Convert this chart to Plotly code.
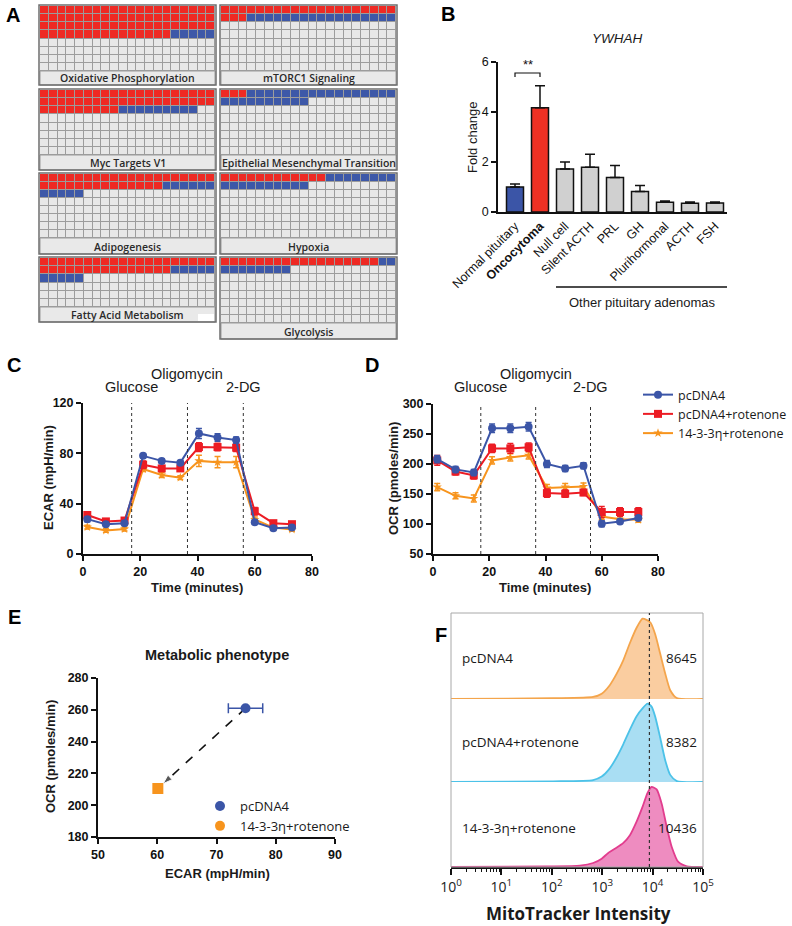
import plotly.graph_objects as go

W, H = 792, 926
FONT = "Liberation Sans, Arial, sans-serif"

# ---- A: hallmark gene-set waffles (cells = genes, red up / blue down) ----
GENE_SETS = ["Oxidative Phosphorylation", "mTORC1 Signaling", "Myc Targets V1",
             "Epithelial Mesenchymal Transition", "Adipogenesis", "Hypoxia",
             "Fatty Acid Metabolism", "Glycolysis"]
UP_COUNTS = [75, 23, 49, 3, 34, 12, 35, 18]
DOWN_COUNTS = [5, 17, 9, 27, 11, 18, 10, 10]
GRID_ROWS = [8, 8, 8, 8, 8, 8, 6, 8]
GRID_COLS = 20

# ---- B: YWHAH expression ----
B_CATEGORIES = ["Normal pituitary", "Oncocytoma", "Null cell", "Silent ACTH", "PRL",
                "GH", "Plurihormonal", "ACTH", "FSH"]
B_FOLD = [1.0, 4.17, 1.72, 1.79, 1.38, 0.82, 0.39, 0.35, 0.36]
B_SEM = [0.12, 0.88, 0.28, 0.52, 0.48, 0.24, 0.05, 0.05, 0.04]

# ---- C / D: Seahorse traces ----
SERIES = ["pcDNA4", "pcDNA4+rotenone", "14-3-3η+rotenone"]
TIME = [1.5, 8, 14.5, 21, 27.5, 34, 40.5, 47, 53.5, 60, 66.5, 73]
INJECTION_TIMES = [17, 36.5, 56]
INJECTIONS = ["Glucose", "Oligomycin", "2-DG"]

ECAR = [
    [27.7, 23.7, 24.5, 78, 74, 72.6, 95.8, 92.6, 90.5, 25.3, 20.5, 21.1],
    [31, 25.9, 26.6, 71, 68, 68, 85, 85, 84.5, 34, 24.5, 23.7],
    [21.4, 18.7, 19.8, 67.5, 62.8, 60.7, 74, 73, 73, 27.5, 21, 19.5],
]
ECAR_ERR = [
    [2, 1.5, 1.5, 1.5, 1.5, 1.5, 4, 3, 2.5, 1.5, 1.5, 1.5],
    [2, 1.5, 1.5, 3, 2, 2, 3.5, 3, 3, 3, 1.5, 1.5],
    [1.5, 1.5, 1.5, 2, 2, 1.5, 4.5, 4.5, 4.5, 2, 1.5, 1.5],
]
OCR = [
    [208, 191, 186, 259.5, 259.5, 262, 200, 192.5, 197, 100.5, 104, 110],
    [206, 187.5, 181, 226, 226, 228, 151.5, 150.5, 152.5, 120, 120, 120],
    [161.5, 147, 142.5, 206, 211, 214.5, 160, 161.5, 162.5, 112.5, 108, 107],
]
OCR_ERR = [
    [6, 5, 5, 7, 7, 7, 6, 5, 5, 5, 3, 3],
    [8, 6, 6, 7, 8, 7, 7, 6, 5, 9, 7, 7],
    [6, 5, 6, 6, 6, 6, 6, 6, 6, 5, 4, 4],
]

# ---- E: metabolic phenotype ----
E_SAMPLES = ["pcDNA4", "14-3-3η+rotenone"]
E_ECAR = [74.9, 60.1]
E_OCR = [261, 210.5]
E_ECAR_ERR = [2.9, 0.6]
E_OCR_ERR = [1, 3]

# ---- F: MitoTracker histograms (log10 intensity, normalised count) ----
F_SAMPLES = ["pcDNA4", "pcDNA4+rotenone", "14-3-3η+rotenone"]
F_MFI = [8645, 8382, 10436]
F_LOG_X = [
    [0, 2.03, 2.82, 2.99, 3.15, 3.29, 3.42, 3.55, 3.68, 3.80, 3.88, 3.96, 4.05, 4.15, 4.25, 4.35, 4.48, 5.0],
    [0, 2.03, 2.82, 2.99, 3.15, 3.29, 3.42, 3.55, 3.68, 3.80, 3.90, 3.98, 4.05, 4.15, 4.25, 4.35, 4.48, 5.0],
    [0, 1.9, 2.56, 2.82, 2.99, 3.12, 3.29, 3.42, 3.55, 3.68, 3.80, 3.90, 3.98, 4.08, 4.18, 4.28, 4.38, 4.51, 4.68, 5.0],
]
F_COUNTS = [
    [0, 0.01, 0.025, 0.066, 0.17, 0.315, 0.48, 0.69, 0.875, 0.99, 0.975, 0.94, 0.80, 0.56, 0.315, 0.108, 0.012, 0],
    [0, 0.008, 0.025, 0.07, 0.174, 0.32, 0.485, 0.67, 0.837, 0.94, 1.0, 0.963, 0.838, 0.568, 0.278, 0.091, 0.012, 0],
    [0, 0.008, 0.017, 0.05, 0.104, 0.175, 0.242, 0.3, 0.396, 0.5625, 0.75, 0.925, 1.0, 0.967, 0.79, 0.5, 0.25, 0.0625, 0.008, 0],
]

BLUE, RED, ORANGE = "#3b55a7", "#ec1c24", "#f7941d"
INK = "#111111"
SANS = "Open Sans, " + FONT


def px(x):
    return x / W


def py(y):
    return 1 - y / H


def ax(n):
    return "" if n == 1 else str(n)


fig = go.Figure()
layout = {}
shapes = []
annotations = []


def label(x, y, s, size=13, bold=False, color="#1a1a1a", family=FONT, xanchor="center",
          weight=None, **kw):
    w = weight if weight is not None else ("bold" if bold else "normal")
    annotations.append(dict(x=px(x), y=py(y), xref="paper", yref="paper", text=s,
                            showarrow=False, xanchor=xanchor, yanchor="middle",
                            font=dict(family=family, size=size, color=color, weight=w), **kw))


def prism_axis(**kw):
    d = dict(showline=True, linecolor=INK, linewidth=2, ticks="outside", ticklen=5,
             tickwidth=2, tickcolor=INK, showgrid=False, zeroline=False, automargin=False,
             tickfont=dict(family=FONT, size=12.5, color=INK, weight="bold"))
    d.update(kw)
    return d


# panel letters
for s, x, y in [("A", 13, 15), ("B", 448, 14), ("C", 14, 365), ("D", 372, 365),
                ("E", 14, 617), ("F", 441, 635)]:
    label(x, y, s, size=20, bold=True, color="#000")

# ---------------- A ----------------
GRID_X = [(40, 215), (221, 396)]
GRID_Y = [(6, 71, 85), (6, 71, 85), (90, 155, 170), (90, 155, 170),
          (174, 238, 254), (174, 238, 254), (258, 307, 322), (258, 323, 339)]
waffle_scale = [[0, "#e7e7e7"], [0.33, "#e7e7e7"], [0.33, "#ee2a24"], [0.67, "#ee2a24"],
                [0.67, "#3d58a8"], [1, "#3d58a8"]]
for i, name in enumerate(GENE_SETS):
    n = i + 1
    x0, x1 = GRID_X[i % 2]
    top, gbot, bot = GRID_Y[i]
    rows = GRID_ROWS[i]
    cells = [1] * UP_COUNTS[i] + [2] * DOWN_COUNTS[i]
    cells += [0] * (rows * GRID_COLS - len(cells))
    z = [cells[r * GRID_COLS:(r + 1) * GRID_COLS] for r in range(rows)]
    fig.add_trace(go.Heatmap(z=z, xaxis="x" + ax(n), yaxis="y" + ax(n), zmin=0, zmax=2,
                             colorscale=waffle_scale, showscale=False, xgap=1, ygap=1,
                             hoverinfo="skip"))
    layout["xaxis" + ax(n)] = dict(domain=[px(x0), px(x1)], range=[-0.5, GRID_COLS - 0.5],
                                   visible=False, anchor="y" + ax(n), automargin=False)
    layout["yaxis" + ax(n)] = dict(domain=[py(gbot), py(top)], range=[rows - 0.5, -0.5],
                                   visible=False, anchor="x" + ax(n), automargin=False)
    shapes.append(dict(type="rect", xref="x" + ax(n), yref="y" + ax(n), x0=-0.5,
                       x1=GRID_COLS - 0.5, y0=-0.5, y1=rows - 0.5, fillcolor="#9c9c9c",
                       line_width=0, layer="below"))
    shapes.append(dict(type="rect", xref="paper", yref="paper", x0=px(x0), x1=px(x1),
                       y0=py(bot), y1=py(gbot), fillcolor="#e9e9e9",
                       line=dict(color="#9c9c9c", width=1), layer="below"))
    shapes.append(dict(type="rect", xref="paper", yref="paper", x0=px(x0 - 1), x1=px(x1 + 1),
                       y0=py(bot), y1=py(top - 1), line=dict(color="#6e6e6e", width=1.5)))
    label((x0 + x1) / 2, (gbot + bot) / 2 + 0.5, name, size=10.5, color="#2a2a2a",
          family=SANS, weight=600)
# small white patch in the Fatty Acid Metabolism label box
shapes.append(dict(type="rect", xref="paper", yref="paper", x0=px(198), x1=px(214),
                   y0=py(321), y1=py(314), fillcolor="white", line_width=0))

# ---------------- B ----------------
b_colors = [BLUE, "#ee3124"] + ["#d0d0d0"] * (len(B_CATEGORIES) - 2)
fig.add_trace(go.Bar(x=list(range(len(B_CATEGORIES))), y=B_FOLD, xaxis="x9", yaxis="y9",
                     width=0.68, marker=dict(color=b_colors, line=dict(color=INK, width=1.5)),
                     error_y=dict(type="data", array=B_SEM, arrayminus=[0] * len(B_SEM),
                                  symmetric=False, color=INK, thickness=1.5, width=5),
                     showlegend=False, hoverinfo="skip"))
b_ticks = [f"<b>{c}</b>" if c == "Oncocytoma" else c for c in B_CATEGORIES]
layout["xaxis9"] = dict(domain=[px(498), px(727)], range=[-0.68, 8.48], anchor="y9",
                        showline=True, linecolor=INK, linewidth=2, ticks="", showgrid=False,
                        automargin=False,
                        tickvals=list(range(len(B_CATEGORIES))), ticktext=b_ticks, tickangle=-45,
                        tickfont=dict(family=FONT, size=12.5, color=INK))
layout["yaxis9"] = prism_axis(domain=[py(212), py(62)], range=[0, 6], dtick=2, anchor="x9",
                              ticklen=5, tickwidth=1.5, linewidth=1.5,
                              tickfont=dict(family=FONT, size=12.5, color=INK))
shapes.append(dict(type="path", xref="x9", yref="y9", path="M 0,5.4 L 0,5.56 L 1,5.56 L 1,5.4",
                   line=dict(color=INK, width=1.2)))
annotations.append(dict(x=0.5, y=5.92, xref="x9", yref="y9", text="**", showarrow=False,
                        font=dict(family=FONT, size=13, color=INK)))
label(617, 39, "<i>YWHAH</i>", size=13.5)
label(472, 137, "Fold change", size=13, textangle=-90)
shapes.append(dict(type="line", xref="paper", yref="paper", x0=px(556), x1=px(727),
                   y0=py(287), y1=py(287), line=dict(color=INK, width=1.3)))
label(642, 302, "Other pituitary adenomas", size=13)

# ---------------- C & D ----------------
styles = [dict(color=BLUE, symbol="circle", size=8),
          dict(color=RED, symbol="square", size=8),
          dict(color=ORANGE, symbol="star", size=7)]
panels = [(10, ECAR, ECAR_ERR, False), (11, OCR, OCR_ERR, True)]
for n, vals, errs, show in panels:
    for k in [2, 1, 0]:
        st = styles[k]
        fig.add_trace(go.Scatter(
            x=TIME, y=vals[k], xaxis=f"x{n}", yaxis=f"y{n}", mode="lines+markers",
            name=SERIES[k], legendrank=k + 1, showlegend=show,
            line=dict(color=st["color"], width=2),
            marker=dict(color=st["color"], symbol=st["symbol"], size=st["size"]),
            error_y=dict(type="data", array=errs[k], color=st["color"], thickness=1.5, width=3),
            hoverinfo="skip"))
    for t in INJECTION_TIMES:
        shapes.append(dict(type="line", xref=f"x{n}", yref=f"y{n} domain", x0=t, x1=t, y0=0, y1=1,
                           line=dict(color="#333", width=1, dash="dot")))

layout["xaxis10"] = prism_axis(domain=[px(83), px(312)], range=[0, 80], dtick=20, anchor="y10")
layout["yaxis10"] = prism_axis(domain=[py(554), py(403)], range=[0, 120], dtick=40, anchor="x10")
layout["xaxis11"] = prism_axis(domain=[px(433), px(658)], range=[0, 80], dtick=20, anchor="y11")
layout["yaxis11"] = prism_axis(domain=[py(554), py(404)], range=[50, 300], dtick=50, anchor="x11")

for n in (10, 11):
    for t, name, y in zip(INJECTION_TIMES, INJECTIONS, [387, 374, 387]):
        annotations.append(dict(x=t, y=py(y), xref=f"x{n}", yref="paper", text=name,
                                showarrow=False, xanchor="center", yanchor="middle",
                                font=dict(family=FONT, size=14.5, color="#1a1a1a")))
label(48, 478, "ECAR (mpH/min)", size=13, bold=True, textangle=-90)
label(197, 587, "Time (minutes)", size=13, bold=True)
label(393, 479, "OCR (pmoles/min)", size=13, bold=True, textangle=-90)
label(545, 587, "Time (minutes)", size=13, bold=True)

# ---------------- E ----------------
fig.add_trace(go.Scatter(x=E_ECAR, y=E_OCR, xaxis="x12", yaxis="y12", mode="lines+markers",
                         line=dict(color=INK, width=1.6, dash="dash"),
                         marker=dict(symbol=["circle", "arrow"], size=[0, 10], color=INK,
                                     angleref="previous", standoff=[0, 7]),
                         showlegend=False, hoverinfo="skip"))
fig.add_trace(go.Scatter(x=E_ECAR[:1], y=E_OCR[:1], xaxis="x12", yaxis="y12", mode="markers",
                         marker=dict(color=BLUE, size=10, symbol="circle"),
                         error_x=dict(type="data", array=E_ECAR_ERR[:1], color=BLUE,
                                      thickness=1.5, width=5),
                         showlegend=False, hoverinfo="skip"))
fig.add_trace(go.Scatter(x=E_ECAR[1:], y=E_OCR[1:], xaxis="x12", yaxis="y12", mode="markers",
                         marker=dict(color=ORANGE, size=11, symbol="square"),
                         error_y=dict(type="data", array=E_OCR_ERR[1:], color="white",
                                      thickness=1, width=3),
                         showlegend=False, hoverinfo="skip"))
for name, col in zip(E_SAMPLES, [BLUE, ORANGE]):
    fig.add_trace(go.Scatter(x=[None], y=[None], xaxis="x12", yaxis="y12", mode="markers",
                             name=name, legend="legend2",
                             marker=dict(color=col, size=10, symbol="circle")))
layout["xaxis12"] = prism_axis(domain=[px(98), px(335)], range=[50, 90], dtick=10, anchor="y12")
layout["yaxis12"] = prism_axis(domain=[py(837), py(678)], range=[180, 280], dtick=20, anchor="x12")
label(217, 655, "Metabolic phenotype", size=14.5, bold=True)
label(50, 757, "OCR (pmoles/min)", size=13, bold=True, textangle=-90)
label(217, 873, "ECAR (mpH/min)", size=13, bold=True)

# ---------------- F ----------------
f_line = ["#f4a54c", "#4cc2e8", "#e23d8e"]
f_fill = ["rgba(249,196,143,0.85)", "rgba(160,218,242,0.9)", "rgba(236,128,185,0.9)"]
f_dom = [(699, 613), (782, 699), (867, 782)]
for k in range(3):
    yn = 13 + k
    fig.add_trace(go.Scatter(x=[10 ** v for v in F_LOG_X[k]], y=F_COUNTS[k], xaxis="x13",
                             yaxis=f"y{yn}", mode="lines", fill="tozeroy", fillcolor=f_fill[k],
                             line=dict(color=f_line[k], width=1.8, shape="spline", smoothing=0.6),
                             showlegend=False, hoverinfo="skip"))
    layout[f"yaxis{yn}"] = dict(domain=[py(f_dom[k][0]), py(f_dom[k][1])], range=[0, 1.06],
                                visible=False, anchor="x13", automargin=False)
minor_vals = [m * 10 ** e for e in range(5) for m in range(2, 10)]
layout["xaxis13"] = dict(domain=[px(451), px(703)], type="log", range=[0, 5], anchor="y15",
                         showline=True, linecolor=INK, linewidth=2, ticks="outside", ticklen=6,
                         tickwidth=1.5, tickcolor=INK, showgrid=False, zeroline=False,
                         automargin=False,
                         tickvals=[1, 10, 100, 1000, 1e4, 1e5],
                         ticktext=[f"10<sup>{e}</sup>" for e in range(6)],
                         tickfont=dict(family=SANS, size=14, color="#1a1a1a"),
                         minor=dict(tickvals=minor_vals, ticks="outside", ticklen=3,
                                    tickwidth=1, tickcolor=INK))
shapes.append(dict(type="rect", xref="paper", yref="paper", x0=px(451), x1=px(703),
                   y0=py(867), y1=py(613), line=dict(color="#a8a8a8", width=1)))
shapes.append(dict(type="line", xref="x13", yref="paper", x0=F_MFI[0], x1=F_MFI[0],
                   y0=py(867), y1=py(613), line=dict(color="#333", width=1.2, dash="dot")))
for name, mfi, y in zip(F_SAMPLES, F_MFI, [658, 742, 828]):
    label(460, y, name, size=13.5, family=SANS, xanchor="left")
    label(699, y, str(mfi), size=13.5, family=SANS, xanchor="right")
label(578, 913, "MitoTracker Intensity", size=17, bold=True, family=SANS)

fig.update_layout(
    width=W, height=H, margin=dict(l=0, r=0, t=0, b=0, autoexpand=False),
    paper_bgcolor="white", plot_bgcolor="white",
    shapes=shapes, annotations=annotations,
    legend=dict(x=px(638), y=py(380), xanchor="left", yanchor="top", bgcolor="rgba(0,0,0,0)",
                font=dict(family=SANS, size=12.5, color="#1a1a1a"),
                itemwidth=30, tracegroupgap=0),
    legend2=dict(x=px(200), y=py(791), xanchor="left", yanchor="top", bgcolor="rgba(0,0,0,0)",
                 font=dict(family=SANS, size=13, color="#1a1a1a"),
                 itemwidth=30, tracegroupgap=0),
    **layout,
)

fig.write_html("out.html", config={"displayModeBar": False},
               post_script="document.body.style.margin='0';document.body.style.overflow='hidden';")
